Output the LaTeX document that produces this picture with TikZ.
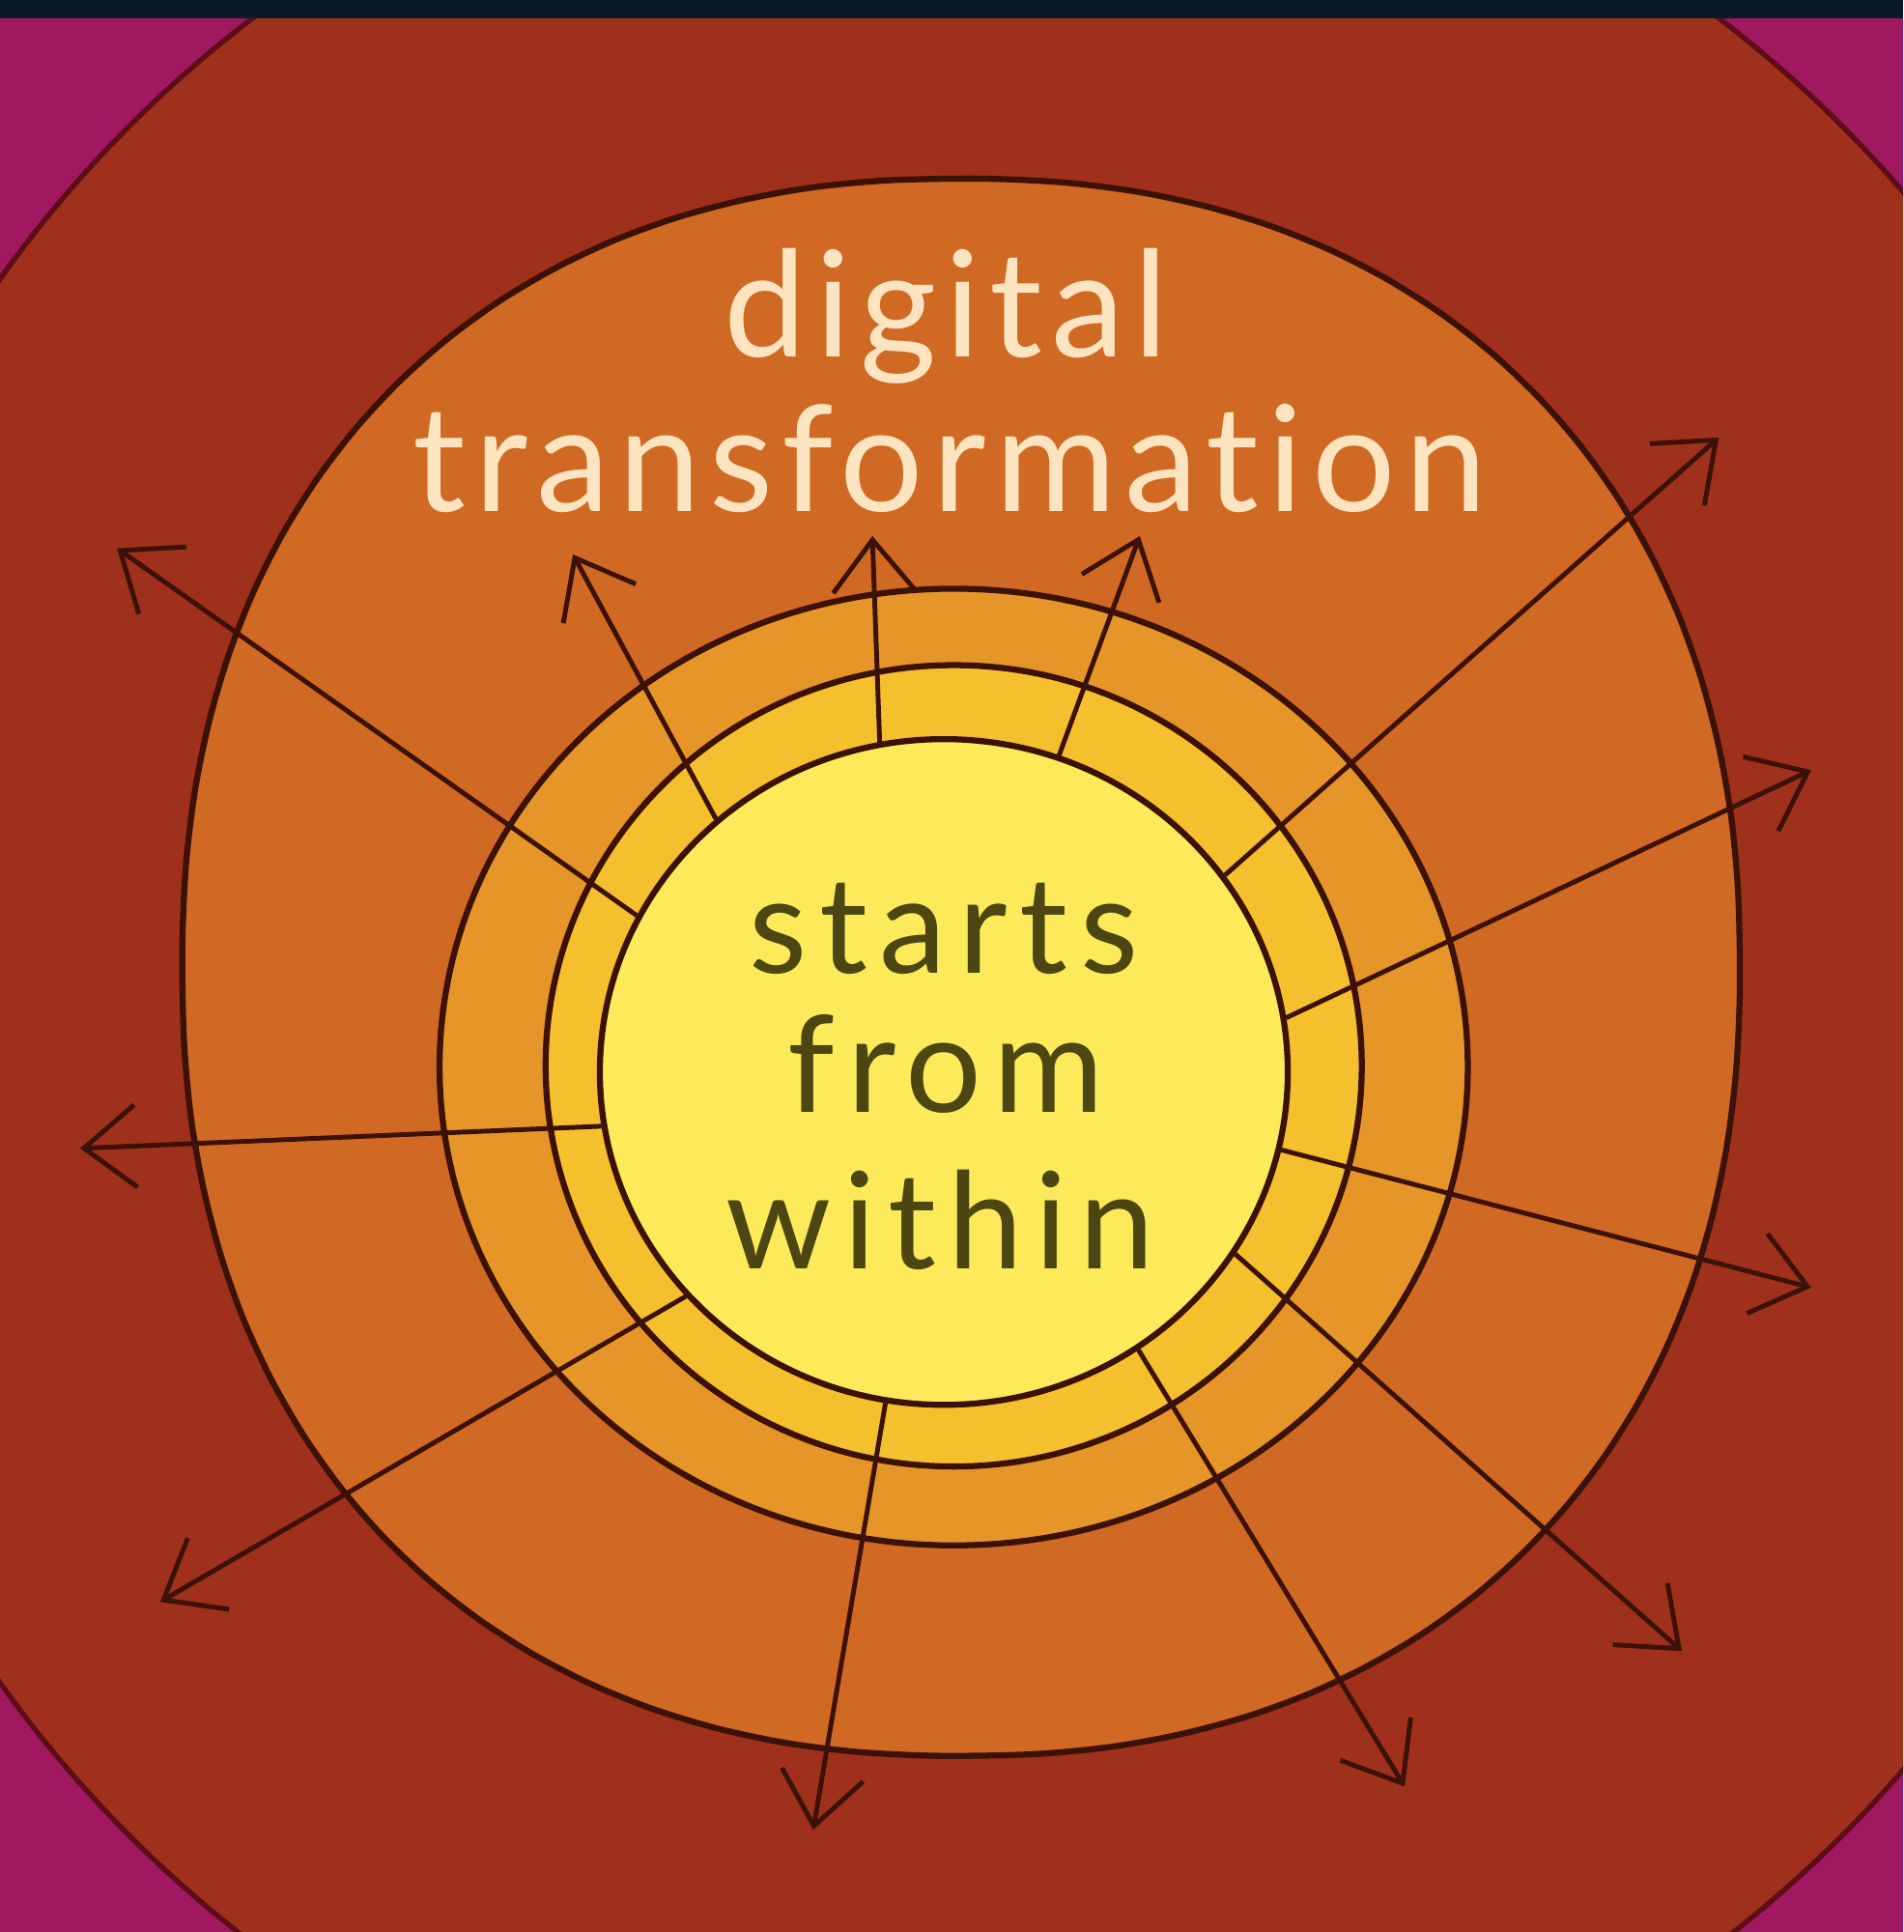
\documentclass[tikz,border=0pt]{standalone}
\usepackage{fontspec}
\usetikzlibrary{arrows.meta,shapes.geometric}

\newfontfamily\handfont{Lato}[LetterSpace=6, Ligatures=NoCommon]
\newfontfamily\corefont{Lato}[LetterSpace=9, Ligatures=NoCommon]

\definecolor{bgmagenta}{RGB}{160,24,96}
\definecolor{topbar}{RGB}{10,25,40}
\definecolor{outerred}{RGB}{158,48,28}
\definecolor{rimline}{RGB}{95,12,25}
\definecolor{blobfill}{RGB}{208,105,35}
\definecolor{amber}{RGB}{230,150,40}
\definecolor{gold}{RGB}{245,192,45}
\definecolor{coreyellow}{RGB}{252,234,90}
\definecolor{inkline}{RGB}{60,18,8}
\definecolor{cream}{RGB}{252,228,192}
\definecolor{olive}{RGB}{76,70,18}

\tikzset{
	ring/.style = {ellipse, draw=inkline, line width=1.4pt, inner sep=0pt},
	ray/.style = {draw=inkline, line width=1.1pt,
		-{Straight Barb[length=12pt,width=19pt]}},
	words/.style = {font=\handfont\fontsize{34}{40}\selectfont, anchor=base, inner sep=0pt},
	corewords/.style = {font=\corefont\fontsize{31}{36}\selectfont, anchor=base, inner sep=0pt, text=olive}
}

\begin{document}
\begin{tikzpicture}[x=0.01cm, y=-0.01cm,
	declare function = {
		blobx(\t) = 780 + 632*sign(cos(\t))*abs(cos(\t))^0.9;
		bloby(\t) = 785 + 640*sign(sin(\t))*abs(sin(\t))^0.9;
	}]
	\useasboundingbox (0,0) rectangle (1544.5,1568);
	\clip (0,0) rectangle (1544.5,1568);

	% background and outer disc
	\fill[bgmagenta] (0,0) rectangle (1544.5,1568);
	\draw[fill=outerred, draw=rimline, line width=1.2pt] (800,796) circle[radius=982];
	\fill[topbar] (0,0) rectangle (1544.5,15);

	% orange blob
	\draw[fill=blobfill, draw=inkline, line width=1.4pt, domain=1:356, samples=72, variable=\t]
		plot[smooth cycle] ({blobx(\t)},{bloby(\t)});

	% rings
	\node[ring, fill=amber, minimum width=8.34cm, minimum height=7.76cm] (amber) at (774,866) {};
	\node[ring, fill=gold, minimum width=6.62cm, minimum height=6.50cm] (gold) at (774,865) {};
	\node[ring, fill=coreyellow, minimum width=5.58cm, minimum height=5.40cm] (core) at (766,870) {};

	% rays
	\foreach \a/\tx/\ty [count=\i] in {153/95/445, 132/465/450, 101/708/435, 70/925/435,
		35/1395/355, 9/1470/625, 347/1470/1045, 328/1365/1340,
		305/1140/1450, 260/660/1485, 221/130/1300, 189/65/932}{
		\coordinate (tip\i) at (\tx,\ty);
		\draw[ray] (core.\a) -- (tip\i);
	}

	% texts
	\node[words, text=cream] (digital) at (768,290) {digital};
	\node[words, text=cream] (transf) at (771,415) {transformation};
	\node[corewords] (starts) at (766,790) {starts};
	\node[corewords] (from) at (768,903) {from};
	\node[corewords] (within) at (763,1030) {within};

\end{tikzpicture}
\end{document}
